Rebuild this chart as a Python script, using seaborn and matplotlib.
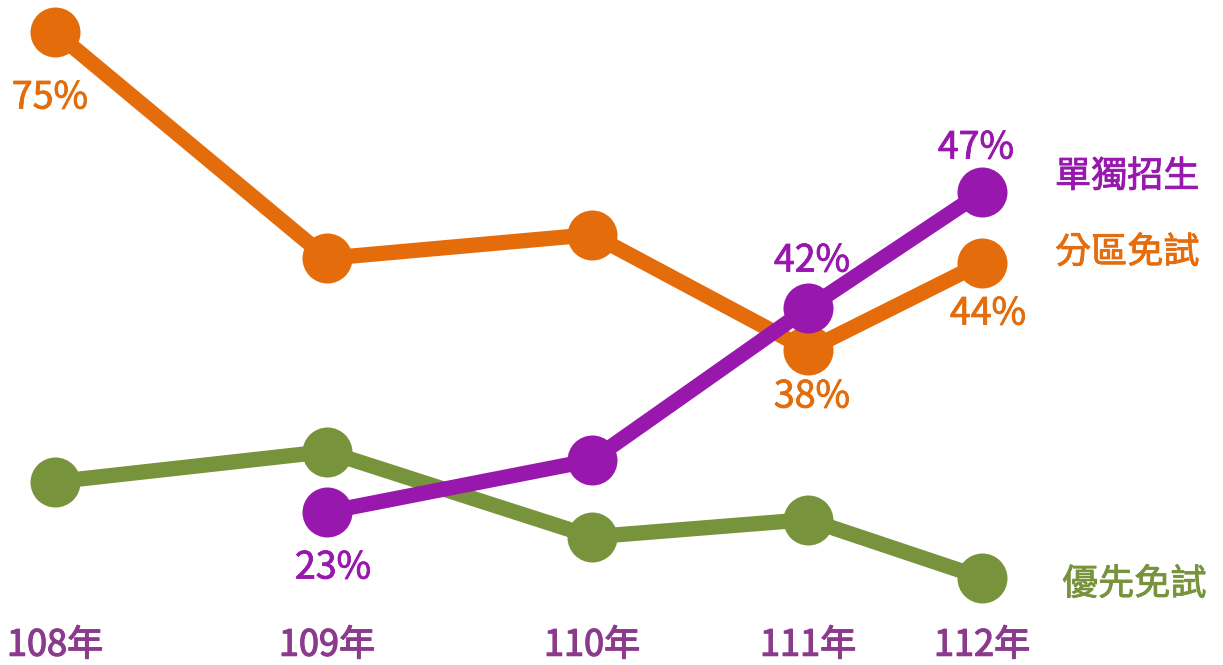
import numpy as np
import pandas as pd
import matplotlib
matplotlib.use('Agg')
import matplotlib.pyplot as plt
import matplotlib.patheffects as pe
import seaborn as sns

# Data (unlabelled points are estimates)
years = ['108年', '109年', '110年', '111年', '112年']
green_name = '優先免試'
orange_name = '分區免試'
purple_name = '單獨招生'
green_values = [25.8, 28.6, 20.7, 22.3, 16.9]
orange_values = [75, 44.2, 45.2, 38, 44]
purple_values = [np.nan, 23, 27.8, 42, 47]
orange_labels = ['75%', '', '', '38%', '44%']
purple_labels = ['', '23%', '', '42%', '47%']

colors = {green_name: '#77933C', orange_name: '#E46C0A', purple_name: '#9818AE'}
tick_color = '#8C3B8C'

rows = []
for name, vals in [(green_name, green_values), (orange_name, orange_values),
                   (purple_name, purple_values)]:
    for i, v in enumerate(vals):
        rows.append({'year': i, 'value': v, 'series': name})
df = pd.DataFrame(rows).dropna()

# The source graphic is not drawn to scale: the years are unevenly spaced and
# the percent axis is stretched around 40-47%. These warps follow its layout.
x_knots = [-1, 0, 1, 2, 3, 4, 6]
x_pix = [-217, 55, 327, 592, 808, 982, 1350]
y_knots = [0, 23, 38, 42, 44, 47, 75, 90]
y_pix = [-95, 153, 315, 357, 402, 473, 633, 715]


def warp(knots, pix):
    fwd = lambda v: np.interp(v, knots, pix)
    inv = lambda p: np.interp(p, pix, knots)
    return fwd, inv


sns.set_style('white')
plt.rcParams['font.family'] = ['Noto Sans CJK TC', 'DejaVu Sans']

fig = plt.figure(figsize=(12.23, 6.65), dpi=100)
ax = fig.add_axes([0, 0.1, 1, 0.9])

for name in [green_name, orange_name, purple_name]:
    sub = df[df['series'] == name]
    sns.lineplot(data=sub, x='year', y='value', color=colors[name],
                 linewidth=11, marker='o', markersize=36, markeredgewidth=0,
                 solid_capstyle='round', ax=ax, legend=False,
                 zorder=3 if name == purple_name else 2)
for line in ax.lines:
    line.set_clip_on(False)

xf, xi = warp(x_knots, x_pix)
yf, yi = warp(y_knots, y_pix)
ax.set_xscale('function', functions=(xf, xi))
ax.set_yscale('function', functions=(yf, yi))
ax.set_xlim(xi(0), xi(1223))
ax.set_ylim(yi(66.5), yi(665))

ax.set_xticks(range(len(years)))
ax.set_xticklabels(years, fontsize=26, color=tick_color)
for t in ax.get_xticklabels():
    # the year labels are a touch heavier than regular weight
    t.set_path_effects([pe.withStroke(linewidth=0.9, foreground=tick_color)])
ax.tick_params(axis='x', length=0, pad=21)
ax.set_yticks([])
ax.set_xlabel('')
ax.set_ylabel('')
sns.despine(ax=ax, left=True, bottom=True)

# value labels, offsets in pixels from each point
orange_offsets = [(-5, -66), None, None, (4, -47), (6, -51)]
purple_offsets = [None, (6, -56), None, (4, 47), (-6, 44)]
for vals, labels, offs, name in [
        (orange_values, orange_labels, orange_offsets, orange_name),
        (purple_values, purple_labels, purple_offsets, purple_name)]:
    for i, (v, lab, off) in enumerate(zip(vals, labels, offs)):
        if lab:
            ax.annotate(lab, (i, v), xytext=off, textcoords='offset pixels',
                        ha='center', va='center', fontsize=27,
                        color=colors[name], annotation_clip=False,
                        path_effects=[pe.withStroke(linewidth=0.6,
                                                    foreground=colors[name])])

# series names at the right end
name_offsets = {purple_name: (73, 15), orange_name: (73, 10), green_name: (80, -7)}
for name, vals in [(purple_name, purple_values), (orange_name, orange_values),
                   (green_name, green_values)]:
    ax.annotate(name, (len(vals) - 1, vals[-1]), xytext=name_offsets[name],
                textcoords='offset pixels', ha='left', va='center',
                fontsize=26, color=colors[name], annotation_clip=False,
                path_effects=[pe.withStroke(linewidth=0.6, foreground=colors[name])])

fig.savefig('out.png', dpi=100)
